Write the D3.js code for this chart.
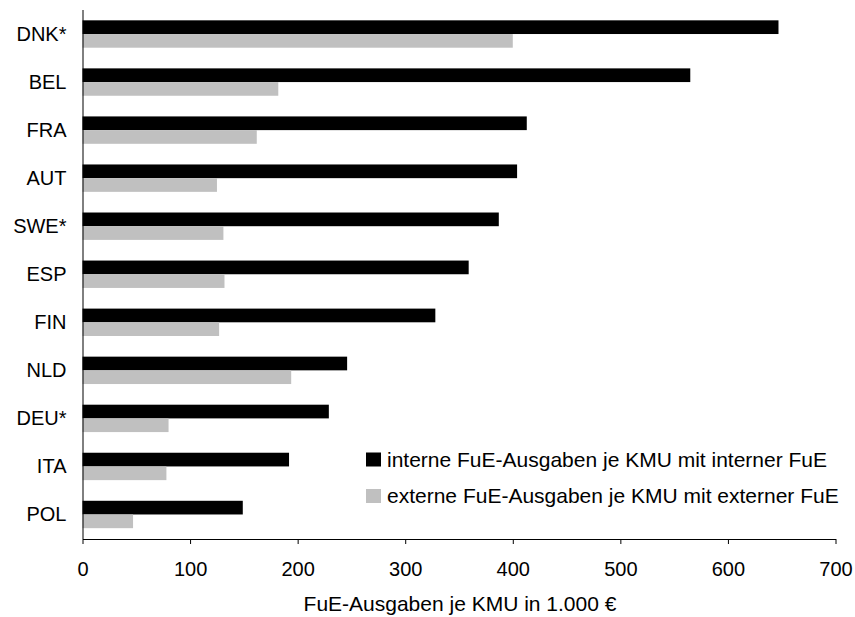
<!DOCTYPE html>
<html>
<head>
<meta charset="utf-8">
<script src="https://cdn.jsdelivr.net/npm/d3@7"></script>
<style>
  html, body { margin: 0; padding: 0; background: #fff; }
  text { font-family: "Liberation Sans", Arial, sans-serif; fill: #000; }
</style>
</head>
<body>
<svg id="chart" width="855" height="617"></svg>
<script>
const categories = ["DNK*", "BEL", "FRA", "AUT", "SWE*", "ESP", "FIN", "NLD", "DEU*", "ITA", "POL"];
const internValues = [647, 565, 413, 404, 387, 359, 328, 246, 229, 192, 149];
const externValues = [400, 182, 162, 125, 131, 132, 127, 194, 80, 78, 47];
const seriesNames = ["interne FuE-Ausgaben je KMU mit interner FuE", "externe FuE-Ausgaben je KMU mit externer FuE"];
const seriesColors = ["#000000", "#c0c0c0"];
const xTicks = [0, 100, 200, 300, 400, 500, 600, 700];
const xTitle = "FuE-Ausgaben je KMU in 1.000 €";

(function () {
const svg = d3.select("#chart");
const mLeft = 82.5, mRight = 835.5, mTop = 10, mBottom = 538.5;
const fontSize = 20;

const x = d3.scaleLinear().domain([0, 700]).range([mLeft, mRight]);
const y = d3.scaleBand().domain(categories).range([mTop, mBottom]).paddingInner(0.43).paddingOuter(0.215);
const sub = d3.scaleBand().domain([0, 1]).range([0, y.bandwidth()]);

const rows = categories.map((c, i) => ({ c, vals: [internValues[i], externValues[i]] }));

const g = svg.append("g");
rows.forEach(r => {
  r.vals.forEach((v, k) => {
    g.append("rect")
      .attr("x", x(0))
      .attr("y", y(r.c) + sub(k))
      .attr("width", x(v) - x(0))
      .attr("height", sub.bandwidth())
      .attr("fill", seriesColors[k]);
  });
});

// X axis
const xAxis = svg.append("g")
  .attr("transform", `translate(0,${mBottom + 0.5})`)
  .call(d3.axisBottom(x).tickValues(xTicks).tickSize(5).tickSizeOuter(0).tickPadding(17.5));
xAxis.select(".domain").attr("stroke", "#000");
xAxis.selectAll(".tick line").attr("stroke", "#000");
xAxis.selectAll("text").attr("font-size", fontSize).attr("font-family", "Liberation Sans, Arial, sans-serif");

// Y axis
const yAxis = svg.append("g")
  .attr("transform", `translate(${mLeft},0)`)
  .call(d3.axisLeft(y).tickSize(0).tickSizeOuter(0).tickPadding(16));
yAxis.select(".domain").attr("stroke", "#000").attr("d", `M0.5,${mTop}V${mBottom + 0.5}`);
yAxis.selectAll("text").attr("font-size", fontSize).attr("font-family", "Liberation Sans, Arial, sans-serif").attr("dy", "0.35em");

// Axis title
svg.append("text")
  .attr("x", (mLeft + mRight) / 2 + 1)
  .attr("y", 611)
  .attr("text-anchor", "middle")
  .attr("font-size", 21)
  .text(xTitle);

// Legend
const legend = svg.append("g");
seriesNames.forEach((name, k) => {
  const ly = 466.5 + k * 36.5;
  legend.append("rect").attr("x", 366).attr("y", ly - 14).attr("width", 15).attr("height", 14).attr("fill", seriesColors[k]);
  legend.append("text").attr("x", 387).attr("y", ly).attr("font-size", 21).text(name);
});
})();
</script>
</body>
</html>
